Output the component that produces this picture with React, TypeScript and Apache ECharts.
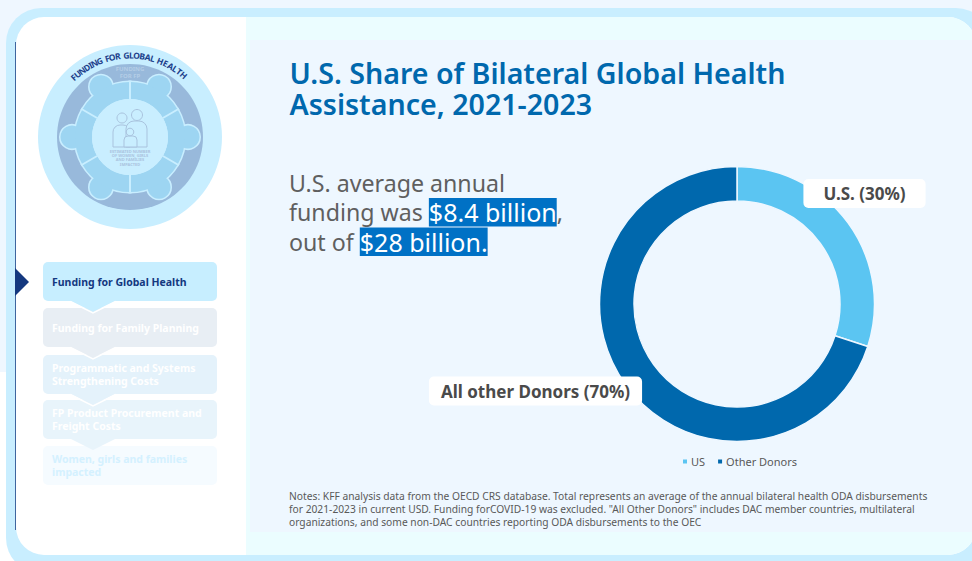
import React, { useEffect, useRef } from "react";
import * as echarts from "echarts";

const donorNames = ["US", "Other Donors"];
const donorShares = [30, 70];
const donorLabels = ["U.S. (30%)", "All other Donors (70%)"];
const donorColors = ["#5BC5F2", "#0068AD"];
const titleLines = ["U.S. Share of Bilateral Global Health", "Assistance, 2021-2023"];
const noteLines = [
  'Notes: KFF analysis data from the OECD CRS database. Total represents an average of the annual bilateral health ODA disbursements',
  'for 2021-2023 in current USD. Funding forCOVID-19 was excluded. "All Other Donors" includes DAC member countries, multilateral',
  'organizations, and some non-DAC countries reporting ODA disbursements to the OEC',
];
const stepLabels = [
  ["Funding for Global Health"],
  ["Funding for Family Planning"],
  ["Programmatic and Systems", "Strengthening Costs"],
  ["FP Product Procurement and", "Freight Costs"],
  ["Women, girls and families", "impacted"],
];
const stepTops = [262, 308, 355, 400, 446];
const stepFills = ["#C7EEFF", "#E8EEF4", "#E4F2FB", "#E8F4FB", "#F5FBFF"];
const stepTextColors = ["#14387F", "#FFFFFF", "#FFFFFF", "#FFFFFF", "#D4F1FF"];
const arcTitle = "FUNDING FOR GLOBAL HEALTH";
const BODY = "'Noto Sans'";

function buildEmblem(): any[] {
  const cx = 130, cy = 137;
  const els: any[] = [
    { type: "circle", shape: { cx, cy, r: 92 }, style: { fill: "#C8EEFF" } },
    { type: "circle", shape: { cx, cy, r: 73 }, style: { fill: "#98B9DB" } },
  ];
  const lobe = (style: any, i: number) => {
    const a = ((i * 60 + 30 - 90) * Math.PI) / 180;
    return { type: "circle", shape: { cx: cx + 58 * Math.cos(a), cy: cy + 58 * Math.sin(a), r: 11.5 }, style };
  };
  const sector = (style: any, i: number) => {
    const s = ((i * 60 - 90) * Math.PI) / 180;
    return { type: "sector", shape: { cx, cy, r: 55, r0: 38, startAngle: s, endAngle: s + Math.PI / 3, clockwise: true }, style };
  };
  const ringEdge = { fill: "#C9EEFF", stroke: "#C9EEFF", lineWidth: 3 };
  const ringFill = { fill: "#9DD5F2" };
  for (let i = 0; i < 6; i++) els.push(lobe(ringEdge, i), sector(ringEdge, i));
  for (let i = 0; i < 6; i++) els.push(lobe(ringFill, i), sector(ringFill, i));
  for (let i = 0; i < 6; i++) {
    const a = ((i * 60 - 90) * Math.PI) / 180;
    els.push({
      type: "line",
      shape: { x1: cx + 38 * Math.cos(a), y1: cy + 38 * Math.sin(a), x2: cx + 56 * Math.cos(a), y2: cy + 56 * Math.sin(a) },
      style: { stroke: "#C9EEFF", lineWidth: 2 },
    });
  }
  els.push({ type: "circle", shape: { cx, cy, r: 38 }, style: { fill: "#C9EEFF" } });
  const icon = { fill: "#C9EEFF", stroke: "#A9C3DE", lineWidth: 1 };
  els.push(
    { type: "rect", shape: { x: 113, y: 125, width: 17, height: 22, r: [7, 7, 0, 0] }, style: icon },
    { type: "rect", shape: { x: 126, y: 121, width: 21, height: 26, r: [8, 8, 0, 0] }, style: icon },
    { type: "circle", shape: { cx: 122, cy: 118, r: 5 }, style: icon },
    { type: "circle", shape: { cx: 137, cy: 115, r: 5.5 }, style: icon },
    { type: "rect", shape: { x: 124, y: 136, width: 13, height: 11, r: [4, 4, 0, 0] }, style: icon },
    { type: "circle", shape: { cx: 130, cy: 132, r: 3.8 }, style: icon },
  );
  ["ESTIMATED NUMBER", "OF WOMEN, GIRLS", "AND FAMILIES", "IMPACTED"].forEach((t, i) => {
    els.push({
      type: "text", x: cx, y: 151 + i * 4.4,
      style: { text: t, fill: "#A9C3DE", font: `bold 4px ${BODY}`, textAlign: "center", textVerticalAlign: "middle" },
    });
  });
  ["FUNDING", "FOR FP"].forEach((t, i) => {
    els.push({
      type: "text", x: cx, y: 69 + i * 6.5,
      style: { text: t, fill: "#B4CDE6", font: `bold 6px ${BODY}`, textAlign: "center", textVerticalAlign: "middle" },
    });
  });
  const weights = arcTitle.split("").map((c) => (c === " " ? 0.55 : c === "I" ? 0.55 : c === "L" || c === "F" ? 0.85 : 1.1));
  const total = weights.reduce((a, b) => a + b, 0);
  const start = -45, end = 43;
  let acc = 0;
  arcTitle.split("").forEach((c, i) => {
    const deg = start + ((end - start) * (acc + weights[i] / 2)) / total;
    acc += weights[i];
    const rad = (deg * Math.PI) / 180;
    els.push({
      type: "text",
      x: cx + 82 * Math.sin(rad),
      y: cy - 82 * Math.cos(rad),
      rotation: -rad,
      style: { text: c, fill: "#1D3F8B", font: `bold 8.5px ${BODY}`, textAlign: "center", textVerticalAlign: "middle" },
    });
  });
  return els;
}

function buildSteps(): any[] {
  const els: any[] = [];
  for (let i = stepLabels.length - 1; i >= 0; i--) {
    const y = stepTops[i];
    els.push({
      type: "rect", shape: { x: 43, y, width: 174, height: 39, r: 5 },
      style: { fill: stepFills[i] },
    });
    if (i < stepLabels.length - 1) {
      const pts = [[70, y + 38.5], [93, y + 50], [116, y + 38.5]];
      els.push({ type: "polygon", shape: { points: pts }, style: { fill: stepFills[i] } });
      if (i < 3) {
        els.push({
          type: "polyline",
          shape: { points: [[70, y + 39.5], [93, y + 51], [116, y + 39.5]] },
          style: { fill: "none", stroke: "#FFFFFF", lineWidth: 1.5 },
        });
      }
    }
    const lines = stepLabels[i];
    lines.forEach((t, j) => {
      const mid = y + 19.5 + (j - (lines.length - 1) / 2) * 13.5;
      els.push({
        type: "text", x: 52, y: mid,
        style: { text: t, fill: stepTextColors[i], font: `bold 10.5px ${BODY}`, textVerticalAlign: "middle" },
      });
    });
  }
  return els;
}

const hl = { backgroundColor: "#0071C5", fill: "#FFFFFF", font: `25px ${BODY}`, lineHeight: 29.5, height: 28.5 };
const plain = { fill: "#5F5F5F", font: `23.2px ${BODY}`, lineHeight: 29.5 };
const labelBase = {
  show: true,
  position: "inside",
  overflow: "none",
  rotate: 0,
  backgroundColor: "#FFFFFF",
  color: "#4A4A4A",
  fontFamily: BODY,
  fontWeight: "bold",
  fontSize: 17,
  borderRadius: 5,
};

export default function App() {
  const ref = useRef<HTMLDivElement>(null);
  useEffect(() => {
    const chart = echarts.init(ref.current!, undefined, { renderer: "svg" });
    chart.setOption({
      animation: false,
      backgroundColor: "#FFFFFF",
      legend: {
        data: donorNames,
        left: 676, top: 451,
        icon: "rect", itemWidth: 6, itemHeight: 6, itemGap: 11,
        textStyle: { color: "#595959", fontSize: 11, fontFamily: BODY, padding: [0, 0, 0, -2] },
      },
      series: [{
        type: "pie",
        center: [737, 304],
        radius: [103, 137.5],
        startAngle: 90,
        clockwise: true,
        z: 10,
        itemStyle: { borderColor: "#EEF7FF", borderWidth: 1.5 },
        labelLine: { show: false },
        label: {
          ...labelBase,
          formatter: (p: any) => donorLabels[p.dataIndex],
          padding: [6, 12, 6, 12],
        },
        labelLayout: (p: any) => p.dataIndex === 0
          ? { x: 864.5, y: 193.5, align: "center", verticalAlign: "middle" }
          : { x: 535.5, y: 391, align: "center", verticalAlign: "middle" },
        data: donorNames.map((name, i) => ({
          name,
          value: donorShares[i],
          itemStyle: { color: donorColors[i] },
          label: {
            ...labelBase,
            formatter: donorLabels[i],
            padding: i === 0 ? [6, 20, 6, 20] : [6, 12, 6, 12],
          },
        })),
      }],
      graphic: [
        { type: "rect", z: -10, shape: { x: 0, y: 0, width: 972, height: 372 }, style: { fill: "#EFF7FF" } },
        { type: "rect", z: -10, shape: { x: 6, y: 8, width: 985, height: 565, r: 35 }, style: { fill: "#C9EEFF" } },
        { type: "rect", z: -10, shape: { x: 16, y: 17, width: 960, height: 538, r: 28 }, style: { fill: "#FFFFFF" } },
        { type: "rect", z: -10, shape: { x: 246, y: 17, width: 730, height: 538, r: [0, 28, 28, 0] }, style: { fill: "#EBFDFF" } },
        { type: "rect", z: -10, shape: { x: 250, y: 40, width: 722, height: 492 }, style: { fill: "#EEF7FF" } },
        { type: "line", z: -9, shape: { x1: 15.5, y1: 42, x2: 15.5, y2: 530 }, style: { stroke: "#3F659F", lineWidth: 1 } },
        { type: "polygon", z: -9, shape: { points: [[15, 268], [29, 282], [15, 296]] }, style: { fill: "#14387F" } },
        { type: "group", z: -8, children: buildEmblem() },
        { type: "group", z: -8, children: buildSteps() },
        {
          type: "text", x: 289.5, y: 56.5,
          style: { text: titleLines.join("\n"), fill: "#0068AD", font: `600 28.6px ${BODY}`, lineHeight: 31 },
        },
        {
          type: "text", x: 289, y: 168,
          style: {
            text: "{p|U.S. average annual}\n{p|funding was }{h|$8.4 billion}{p|,}\n{p|out of }{h|$28 billion.}",
            rich: { p: plain, h: hl },
          },
        },
        ...noteLines.map((t, i) => ({
          type: "text", x: 289, y: 496 + i * 13,
          style: { text: t, fill: "#595959", font: `10.25px ${BODY}`, textVerticalAlign: "middle" },
        })),
      ],
    });
    return () => chart.dispose();
  }, []);
  return <div ref={ref} style={{ position: "fixed", left: 0, top: 0, width: 972, height: 561 }} />;
}
